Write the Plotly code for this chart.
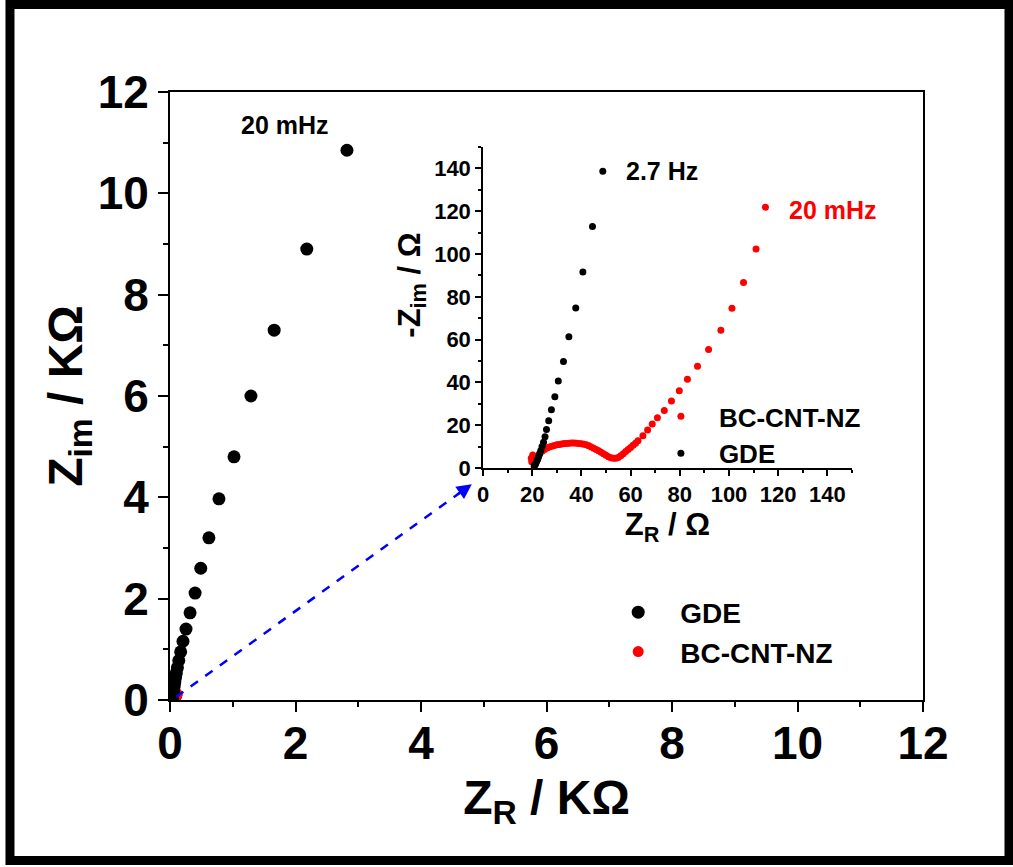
import plotly.graph_objects as go

# GDE impedance (ohm), from 20 mHz (first) down to high frequency
gde_zr = [2820, 2180, 1660, 1290, 1020, 780, 620, 490, 400, 320, 255, 207,
          170, 140, 118, 100, 88, 78, 69, 63, 58, 54, 51, 48.7,
          44.5, 40.6, 37.7, 34.9, 32.7, 30.6, 29.2, 27.8, 26.7, 25.8, 25.2,
          24.6, 24.0, 23.5, 23.0, 22.6, 22.2, 21.8, 21.4, 21.0, 20.8]
gde_zim = [10850, 8900, 7300, 6000, 4800, 3970, 3200, 2600, 2110, 1720, 1400, 1160,
           950, 780, 640, 530, 440, 360, 300, 250, 210, 180, 155, 138.7,
           112.8, 91.6, 74.8, 61.3, 49.8, 40.7, 33.3, 27.2, 22.1, 18.0, 14.6,
           12.0, 10.0, 8.2, 6.6, 5.2, 4.0, 3.0, 2.0, 1.3, 0.9]

# BC-CNT-NZ impedance (ohm)
bc_zr = [114.8, 111.0, 105.9, 101.2, 96.7, 91.7, 87.2, 83.1, 79.8, 76.6, 73.7,
         70.9, 68.8, 66.9, 65.0, 63.0, 62.0, 61.0, 60.0, 59.0, 58.0, 57.0, 56.0,
         55.0, 54.0, 53.0, 52.0, 51.0, 50.0, 49.0, 48.0, 47.0, 46.0, 45.0, 44.0,
         43.0, 42.0, 41.0, 40.0, 39.0, 38.0, 37.0, 36.0, 35.0, 34.0, 33.0, 32.0,
         31.0, 30.0, 29.0, 28.0, 27.0, 26.0, 25.0, 24.0, 23.0, 22.0, 21.2, 20.5,
         19.8, 19.6, 20.2]
bc_zim = [121.9, 102.3, 86.7, 74.7, 64.4, 55.4, 47.6, 41.5, 36.1, 31.3, 26.9,
          23.5, 20.5, 17.7, 15.1, 12.7, 11.6, 10.6, 9.6, 8.6, 7.7, 6.7, 5.7,
          4.9, 4.5, 4.5, 4.8, 5.3, 6.0, 6.7, 7.4, 8.0, 8.6, 9.2, 9.8,
          10.4, 10.8, 11.1, 11.3, 11.5, 11.6, 11.7, 11.7, 11.6, 11.5, 11.4, 11.2,
          11.0, 10.8, 10.5, 10.2, 9.8, 9.3, 8.6, 7.8, 6.5, 5.2, 3.5, 2.6,
          2.9, 4.5, 6.1]

main_ticks = [0, 2, 4, 6, 8, 10, 12]
inset_ticks = [0, 20, 40, 60, 80, 100, 120, 140]

FONT = "Liberation Sans, Arial, sans-serif"

fig = go.Figure()

# main plot (kOhm)
fig.add_trace(go.Scatter(
    x=[v / 1000 for v in bc_zr], y=[v / 1000 for v in bc_zim],
    mode="markers", name="BC-CNT-NZ", marker=dict(color="#FF0000", size=11),
    legend="legend", legendrank=2, xaxis="x", yaxis="y"))
fig.add_trace(go.Scatter(
    x=[v / 1000 for v in gde_zr], y=[v / 1000 for v in gde_zim],
    mode="markers", name="GDE", marker=dict(color="#000000", size=13),
    legend="legend", legendrank=1, xaxis="x", yaxis="y"))

# inset (Ohm)
fig.add_trace(go.Scatter(
    x=bc_zr, y=bc_zim, mode="markers", name="BC-CNT-NZ",
    marker=dict(color="#FF0000", size=7),
    legend="legend2", legendrank=1, xaxis="x2", yaxis="y2"))
fig.add_trace(go.Scatter(
    x=gde_zr, y=gde_zim, mode="markers", name="GDE",
    marker=dict(color="#000000", size=7),
    legend="legend2", legendrank=2, xaxis="x2", yaxis="y2"))

main_axis = dict(
    showline=True, linecolor="black", linewidth=2, mirror=True,
    ticks="outside", ticklen=10, tickwidth=2, tickcolor="black",
    minor=dict(ticks="outside", ticklen=5, tickwidth=2, tickcolor="black", dtick=1),
    showgrid=False, zeroline=False,
    tickfont=dict(family=FONT, size=46, color="black", weight="bold"),
    range=[0, 12], tickvals=main_ticks, ticktext=[str(t) for t in main_ticks],
)
inset_axis = dict(
    showline=True, linecolor="black", linewidth=1.5, mirror=False,
    ticks="outside", ticklen=6, tickwidth=1.5, tickcolor="black",
    minor=dict(ticks="outside", ticklen=3, tickwidth=1.5, tickcolor="black", dtick=10),
    showgrid=False, zeroline=False,
    tickfont=dict(family=FONT, size=22, color="black", weight="bold"),
    range=[0, 150], tickvals=inset_ticks, ticktext=[str(t) for t in inset_ticks],
)

fig.update_layout(
    width=1013, height=867,
    margin=dict(l=170, r=90, t=92, b=167),
    paper_bgcolor="white", plot_bgcolor="white",
    font=dict(family=FONT, color="black"),
    xaxis=dict(main_axis, domain=[0, 1], anchor="y", ticklabelstandoff=-8,
               title=dict(text="<b>Z<sub>R</sub> / KΩ</b>",
                          font=dict(family=FONT, size=48, color="black"), standoff=12)),
    yaxis=dict(main_axis, domain=[0, 1], anchor="x",
               title=dict(text="<b>Z<sub>im</sub> / KΩ</b>",
                          font=dict(family=FONT, size=48, color="black"), standoff=0)),
    xaxis2=dict(inset_axis, domain=[0.4157, 0.9057], anchor="y2",
                title=dict(text="<b>Z<sub>R</sub> / Ω</b>",
                           font=dict(family=FONT, size=31, color="black"), standoff=4)),
    yaxis2=dict(inset_axis, domain=[0.3816, 0.9095], anchor="x2"),
    legend=dict(x=0.566, y=0.185, xanchor="left", yanchor="top",
                bgcolor="rgba(0,0,0,0)", itemsizing="trace", itemwidth=74,
                font=dict(family=FONT, size=28, color="black", weight="bold")),
    legend2=dict(x=0.628, y=0.505, xanchor="left", yanchor="top",
                 bgcolor="rgba(0,0,0,0)", itemsizing="trace", itemwidth=66,
                 font=dict(family=FONT, size=26, color="black", weight="bold")),
    showlegend=True,
)

# inset y title
fig.add_annotation(text="<b>-Z<sub>im</sub> / Ω</b>", xref="paper", yref="paper",
                   x=0.321, y=0.6826, xanchor="center", yanchor="middle",
                   textangle=-90, showarrow=False,
                   font=dict(family=FONT, size=31, color="black"))

# frequency labels
fig.add_annotation(text="<b>20 mHz</b>", xref="x", yref="y", x=1.83, y=11.35,
                   showarrow=False, font=dict(family=FONT, size=25, color="black"))
fig.add_annotation(text="<b>2.7 Hz</b>", xref="x2", yref="y2", x=72.9, y=139,
                   showarrow=False, font=dict(family=FONT, size=25, color="black"))
fig.add_annotation(text="<b>20 mHz</b>", xref="x2", yref="y2", x=142.4, y=120.4,
                   showarrow=False, font=dict(family=FONT, size=25, color="#FF0000"))

# blue dashed pointer arrow
fig.add_shape(type="line", xref="x", yref="y", x0=0.096, y0=0.06, x1=4.62, y1=4.09,
              line=dict(color="#0000FF", width=2.5, dash="dash"))
fig.add_annotation(xref="x", yref="y", x=4.81, y=4.26, ax=-16, ay=11.5,
                   text="", showarrow=True, arrowhead=2, arrowsize=1.2,
                   arrowwidth=2.5, arrowcolor="#0000FF")

# outer frame
fig.add_shape(type="rect", xref="paper", yref="paper",
              x0=-0.2125, x1=1.1142, y0=-0.264, y1=1.1439,
              line=dict(color="black", width=9), fillcolor="rgba(0,0,0,0)", layer="above")

fig.write_html("out.html")
